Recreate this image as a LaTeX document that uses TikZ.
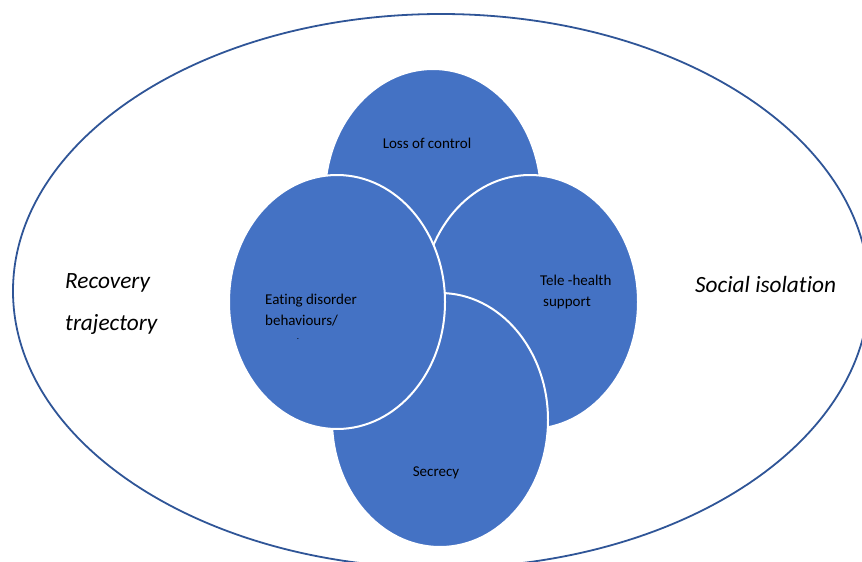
\documentclass[tikz,border=0pt]{standalone}
\usepackage{fontspec}
\setmainfont{Carlito}[Ligatures=NoCommon]
\usetikzlibrary{shapes.geometric}
\definecolor{blobblue}{HTML}{4472C4}
\definecolor{rimblue}{HTML}{2F5597}
\begin{document}
\begin{tikzpicture}[x=1pt,y=-1pt,
  blob/.style={ellipse, draw=white, line width=2pt, fill=blobblue,
    minimum width=216pt, minimum height=254pt, inner sep=0pt},
  smalllbl/.style={font=\fontsize{15}{21}\selectfont, text=black, inner sep=0pt, align=left},
  biglbl/.style={font=\fontsize{23.3}{42}\selectfont\itshape, text=black, inner sep=0pt, align=left}]
\useasboundingbox (0,0) rectangle (862,562);
\begin{scope}
\clip (0,0) rectangle (862,562);
\node[ellipse, draw=rimblue, line width=1.8pt, minimum width=856pt, minimum height=554pt, inner sep=0pt] (outer) at (441,291) {};
\end{scope}
\node[blob] (top) at (433,196) {};
\node[blob] (right) at (530,302) {};
\node[blob] (bottom) at (440,420) {};
\node[blob] (left) at (337,302) {};
\node[smalllbl] (loss) at (427,143) {Loss of control};
\node[smalllbl, anchor=west] (eating) at (265,310.5) {Eating disorder\\behaviours/};
\node[font=\fontsize{9}{9}\selectfont, text=black, inner sep=0pt, anchor=base] (dot) at (298,339) {.};
\node[smalllbl, anchor=west] (tele) at (540,291.5) {Tele -health\\\hspace{3pt}support};
\node[smalllbl] (secrecy) at (436,473) {Secrecy};
\node[biglbl, anchor=west] (recovery) at (65,304) {Recovery\\trajectory};
\node[biglbl, anchor=west] (social) at (695,284) {Social isolation};
\end{tikzpicture}
\end{document}
